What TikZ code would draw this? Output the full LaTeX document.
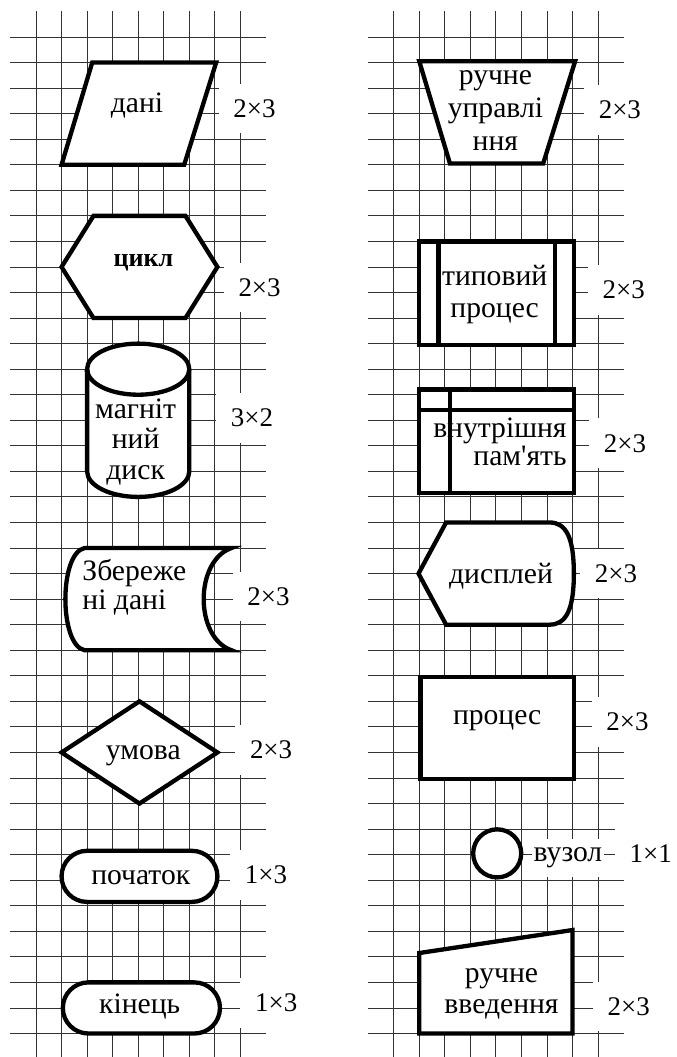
\documentclass[tikz,border=0pt]{standalone}
\usepackage{fontspec}
\setmainfont{Liberation Serif}[Ligatures=TeXOff]
\usetikzlibrary{positioning}

\begin{document}
\begin{tikzpicture}[
                    x=0.5cm, y=-0.5cm,
                    gridline/.style={black!80, line width=0.5pt},
                    symb/.style={draw, fill=white, line width=2.4pt, line join=miter},
                    txt/.style={inner sep=0pt, align=center, font=\fontsize{16.5}{17.6}\selectfont},
                    sizelbl/.style={fill=white, inner xsep=0.29cm, inner ysep=0pt, minimum height=0.97cm, font=\fontsize{15}{18}\selectfont}
                ]
                    \useasboundingbox (-1.409,-1.448) rectangle (25.05,39.92);
                    \foreach \c in {0,...,8,14,15,...,22}
                        \draw[gridline] (\c,-1) -- (\c,39.92);
                    \foreach \r in {0,...,39} {
                        \draw[gridline] (-1,\r) -- (9,\r);
                        \draw[gridline] (13,\r) -- (23,\r);
                    }
                    \draw[symb] (1,5) -- (5.8,5) -- (7.05,1) -- (2.2,1) -- cycle;
                    \draw[symb] (1,9) -- (2.25,7) -- (5.85,7) -- (7.1,9) -- (5.85,11) -- (2.25,11) -- cycle;
                    \draw[symb] (2,13) -- (2,17) arc[start angle=180, end angle=360, x radius=1cm, y radius=0.5cm]
                        -- (6,13) arc[start angle=0, end angle=180, x radius=1cm, y radius=0.5cm] -- cycle;
                    \draw[symb, fill=none] (2,13) arc[start angle=180, end angle=360, x radius=1cm, y radius=0.5cm];
                    \draw[symb] (1.9,20) -- (7.65,20) .. controls (6.2,20.5) and (6.2,23.5) .. (7.65,24)
                        -- (1.9,24) .. controls (0.9,23.8) and (0.9,20.2) .. (1.9,20) -- cycle;
                    \draw[symb] (1,28) -- (4.05,26) -- (7.1,28) -- (4.05,30) -- cycle;
                    \draw[symb, rounded corners=0.5cm] (1,31.85) rectangle (7.1,33.85);
                    \draw[symb, rounded corners=0.5cm] (1.05,37) rectangle (7.2,39);
                    \draw[symb] (15,0.95) -- (21.1,0.95) -- (19.85,4.95) -- (16.2,4.95) -- cycle;
                    \draw[symb] (15,8) rectangle (21.05,12.05);
                    \draw[symb] (15.75,8) -- (15.75,12.05);
                    \draw[symb] (20.3,8) -- (20.3,12.05);
                    \draw[symb] (15,13.8) rectangle (21.05,17.85);
                    \draw[symb] (16.2,13.8) -- (16.2,17.85);
                    \draw[symb] (15,14.6) -- (21.05,14.6);
                    \draw[symb] (16.05,19) -- (20.1,19) .. controls (20.75,19) and (21.05,19.6) .. (21.05,21)
                        .. controls (21.05,22.4) and (20.75,23) .. (20.1,23) -- (16.05,23) -- (14.97,21) -- cycle;
                    \draw[symb] (15.05,25.05) rectangle (21.05,29.05);
                    \draw[symb] (18.05,31.95) circle[radius=0.47cm];
                    \draw[symb] (15,35.85) -- (21,34.95) -- (21,39) -- (15,39) -- cycle;

                    \node[txt, anchor=base] (dani) at (3.95,2.97) {дані};
                    \node[txt, anchor=base, font=\bfseries\fontsize{14.5}{16}\selectfont] (cykl) at (4.2,8.99) {цикл};
                    \node[txt, font=\fontsize{16.5}{17.1}\selectfont] (disk) at (3.9,15.85) {магніт\\ний\\диск};
                    \node[txt, align=left, font=\fontsize{16.5}{16.1}\selectfont] (zberezh) at (3.85,21.55) {Збереже\\ні дані};
                    \node[txt, anchor=base] (umova) at (4.2,28.27) {умова};
                    \node[txt, anchor=base] (pochatok) at (4.1,33.17) {початок};
                    \node[txt, anchor=base] (kinec) at (4.06,38.2) {кінець};
                    \node[txt, font=\fontsize{16.5}{18.2}\selectfont] (upravl) at (17.98,2.87) {ручне\\управлі\\ння};
                    \node[txt] (typovyi) at (17.95,10.08) {типовий\\процес};
                    \node[txt, align=right, anchor=east, font=\fontsize{16.5}{14}\selectfont] (pamiat) at (20.78,15.85) {внутрішня\\пам'ять};
                    \node[txt, anchor=base] (dysplei) at (18.2,21.37) {дисплей};
                    \node[txt, anchor=base] (proces) at (18.05,26.92) {процес};
                    \node[txt, fill=white, inner xsep=0.03cm, minimum height=0.75cm] (vuzol) at (20.82,32.12) {вузол};
                    \node[txt] (vvedennia) at (18.22,37.45) {ручне\\введення};

                    \node[sizelbl] (dani-s) at (8.55,2.8) {2×3};
                    \node[sizelbl] (cykl-s) at (8.75,9.8) {2×3};
                    \node[sizelbl] (disk-s) at (8.45,14.9) {3×2};
                    \node[sizelbl] (zberezh-s) at (9.1,21.9) {2×3};
                    \node[sizelbl] (umova-s) at (9.2,27.9) {2×3};
                    \node[sizelbl] (pochatok-s) at (9.0,32.8) {1×3};
                    \node[sizelbl] (kinec-s) at (9.4,37.8) {1×3};
                    \node[sizelbl] (upravl-s) at (22.85,2.86) {2×3};
                    \node[sizelbl] (typovyi-s) at (23.0,9.9) {2×3};
                    \node[sizelbl] (pamiat-s) at (23.05,15.9) {2×3};
                    \node[sizelbl] (dysplei-s) at (22.7,21.0) {2×3};
                    \node[sizelbl] (proces-s) at (23.15,26.8) {2×3};
                    \node[sizelbl] (vuzol-s) at (24.06,31.95) {1×1};
                    \node[sizelbl] (vvedennia-s) at (23.2,37.95) {2×3};
                \end{tikzpicture}
\end{document}
